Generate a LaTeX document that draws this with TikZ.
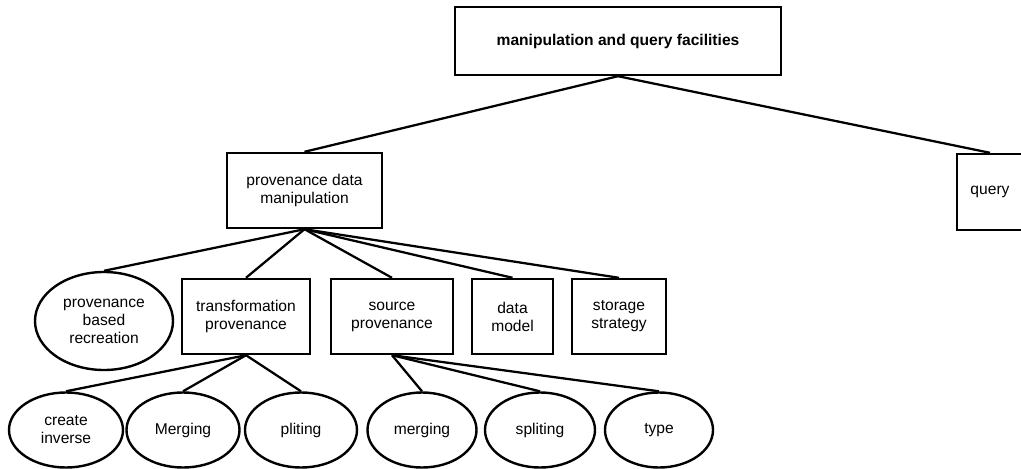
\documentclass[tikz,border=0pt]{standalone}
\usepackage{fontspec}
\setmainfont{Liberation Sans}
\usepackage{tikz}
\usetikzlibrary{shapes.geometric}
\tikzset{
  box/.style={draw,line width=1.8pt,rectangle,inner sep=0pt,align=center,
    font=\fontsize{11.7}{13.5}\selectfont},
  oval/.style={draw,line width=1.8pt,ellipse,inner sep=0pt,align=center,
    font=\fontsize{11.7}{13.5}\selectfont},
  link/.style={line width=1.7pt}
}

\begin{document}
\begin{tikzpicture}[x=0.75pt,y=-0.75pt]
    \useasboundingbox (0,0) rectangle (1021,468);
    % top level
    \node[box,minimum width=326*0.75pt,minimum height=68*0.75pt,font=\fontsize{11.7}{13.5}\selectfont\bfseries]
      (facilities) at (618,41) {manipulation and query facilities};
    \node[box,minimum width=155*0.75pt,minimum height=75*0.75pt]
      (manip) at (304.5,190.5) {provenance data\\manipulation};
    \node[box,minimum width=66*0.75pt,minimum height=76*0.75pt]
      (query) at (990,192) {query};
    % second level
    \node[oval,minimum width=138*0.75pt,minimum height=98*0.75pt]
      (recreation) at (104,321) {provenance\\based\\recreation};
    \node[box,minimum width=128*0.75pt,minimum height=75*0.75pt]
      (transform) at (246,316.5) {transformation\\provenance};
    \node[box,minimum width=122*0.75pt,minimum height=75*0.75pt]
      (source) at (392,316.5) {source\\provenance};
    \node[box,minimum width=81*0.75pt,minimum height=75*0.75pt]
      (model) at (512.5,316.5) {data\\model};
    \node[box,minimum width=94*0.75pt,minimum height=75*0.75pt]
      (storage) at (619,316.5) {storage\\strategy};
    % third level
    \node[oval,minimum width=114*0.75pt,minimum height=75*0.75pt]
      (inverse) at (66,430) {create\\inverse};
    \node[oval,minimum width=113*0.75pt,minimum height=75*0.75pt]
      (tmerge) at (183,430) {Merging};
    \node[oval,minimum width=112*0.75pt,minimum height=75*0.75pt]
      (tsplit) at (301,430) {pliting};
    \node[oval,minimum width=109*0.75pt,minimum height=75*0.75pt]
      (smerge) at (422,430) {merging};
    \node[oval,minimum width=110*0.75pt,minimum height=75*0.75pt]
      (ssplit) at (540,430) {spliting};
    \node[oval,minimum width=108*0.75pt,minimum height=75*0.75pt]
      (stype) at (659,430) {type};
    % connectors
    \draw[link] (facilities.south) -- (manip.north);
    \draw[link] (facilities.south) -- (query.north);
    \foreach \c in {recreation,transform,source,model,storage}
      \draw[link] (manip.south) -- (\c.north);
    \foreach \c in {inverse,tmerge,tsplit}
      \draw[link] (transform.south) -- (\c.north);
    \foreach \c in {smerge,ssplit,stype}
      \draw[link] (source.south) -- (\c.north);
\end{tikzpicture}
\end{document}
